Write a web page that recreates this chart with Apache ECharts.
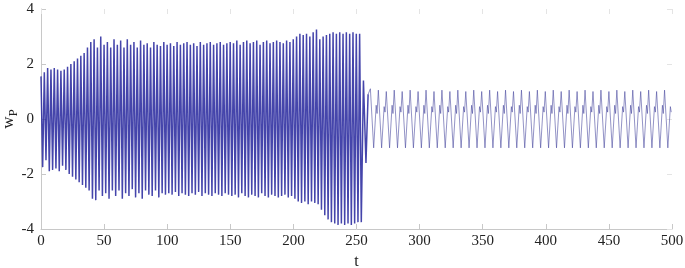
<!DOCTYPE html>
<html>
<head>
<meta charset="utf-8">
<script src="https://cdn.jsdelivr.net/npm/echarts@6/dist/echarts.min.js"></script>
<style>
html,body{margin:0;padding:0;background:#fff;}
#c{width:685px;height:268px;}
</style>
</head>
<body>
<div id="c"></div>
<script>
// ---- data ----
const xTicks = [0, 50, 100, 150, 200, 250, 300, 350, 400, 450, 500];
const yTicks = [-4, -2, 0, 2, 4];

// regime 1: one peak + one trough per cycle, cycle length in t
const period1 = 2.63;
const upper1 = [
  1.55, 1.7, 1.85, 1.8, 1.85, 1.8, 1.75, 1.8,
  1.9, 2.0, 2.1, 2.2,
  2.3, 2.4, 2.6, 2.8,
  2.9, 2.6, 3.0, 2.7,
  2.8, 2.6, 2.9,
  2.7, 2.85, 2.6, 2.9, 2.7, 2.8, 2.6, 2.85, 2.7, 2.75, 2.6, 2.8, 2.7, 2.65, 2.8,
  2.7, 2.75, 2.65, 2.8, 2.7, 2.75, 2.8, 2.7, 2.75, 2.65, 2.8, 2.7, 2.75, 2.8, 2.7, 2.75, 2.8, 2.7, 2.75,
  2.8, 2.75, 2.85, 2.7, 2.8, 2.85, 2.75, 2.8, 2.85, 2.7, 2.8, 2.85, 2.75, 2.8, 2.85, 2.8, 2.75, 2.85, 2.8,
  2.9, 3.0, 3.1, 3.05, 3.1, 3.0, 3.15, 3.25,
  2.9, 3.0, 3.05, 3.1, 3.15, 3.1, 3.15, 3.1, 3.15, 3.1, 3.15, 3.1, 3.1
];
const lower1 = [
  -1.75, -1.5, -1.9, -1.85, -1.8, -1.9, -1.7, -1.85,
  -2.0, -2.1, -2.2, -2.3,
  -2.4, -2.5, -2.6, -2.9,
  -2.95, -2.6, -2.8, -2.7,
  -2.9, -2.6, -2.8,
  -2.6, -2.9, -2.7, -2.8, -2.55, -2.85, -2.7, -2.9, -2.6, -2.75, -2.8, -2.6, -2.85, -2.7, -2.75,
  -2.7, -2.75, -2.65, -2.8, -2.7, -2.75, -2.8, -2.7, -2.75, -2.65, -2.8, -2.7, -2.75, -2.8, -2.7, -2.75, -2.8, -2.7, -2.75,
  -2.8, -2.75, -2.85, -2.7, -2.8, -2.85, -2.75, -2.8, -2.85, -2.7, -2.8, -2.85, -2.75, -2.8, -2.85, -2.8, -2.75, -2.85, -2.8,
  -2.9, -3.0, -3.05, -3.0, -3.1, -3.0, -3.05, -3.1,
  -3.3, -3.5, -3.65, -3.75, -3.8, -3.85, -3.8, -3.85, -3.8, -3.85, -3.8, -3.75, -3.75
];

// transition between regimes
const transT = [255.5, 257.5, 259.2];
const transV = [1.4, -1.6, 0.9];

// regime 2: per cycle peak, trough, shoulder and dip
const start2 = 261;
const period2 = 6.3;
const peak2 = [
  1.1, 1.05, 1.0, 1.05, 1.0, 1.05, 1.0, 1.05, 1.0, 1.05,
  1.0, 1.05, 1.0, 1.05, 1.0, 1.05, 1.0, 1.05, 1.0, 1.05,
  1.0, 1.05, 1.0, 1.05, 1.0, 1.05, 1.0, 1.05, 1.0, 1.05,
  1.0, 1.05, 1.0, 1.05, 1.0, 1.05, 1.0, 1.05
];
const trough2 = [
  -1.05, -1.05, -1.05, -1.05, -1.05, -1.05, -1.05, -1.05, -1.05, -1.05,
  -1.05, -1.05, -1.05, -1.05, -1.05, -1.05, -1.05, -1.05, -1.05, -1.05,
  -1.05, -1.05, -1.05, -1.05, -1.05, -1.05, -1.05, -1.05, -1.05, -1.05,
  -1.05, -1.05, -1.05, -1.05, -1.05, -1.05, -1.05, -1.05
];
const shoulder2 = [
  0.5, 0.45, 0.5, 0.45, 0.5, 0.45, 0.5, 0.45, 0.5, 0.45,
  0.5, 0.45, 0.5, 0.45, 0.5, 0.45, 0.5, 0.45, 0.5, 0.45,
  0.5, 0.45, 0.5, 0.45, 0.5, 0.45, 0.5, 0.45, 0.5, 0.45,
  0.5, 0.45, 0.5, 0.45, 0.5, 0.45, 0.5, 0.45
];
const dip2 = [
  0.2, 0.25, 0.2, 0.25, 0.2, 0.25, 0.2, 0.25, 0.2, 0.25,
  0.2, 0.25, 0.2, 0.25, 0.2, 0.25, 0.2, 0.25, 0.2, 0.25,
  0.2, 0.25, 0.2, 0.25, 0.2, 0.25, 0.2, 0.25, 0.2, 0.25,
  0.2, 0.25, 0.2, 0.25, 0.2, 0.25, 0.2, 0.25
];

// ---- build series points ----
const data1 = [];
for (let i = 0; i < upper1.length; i++) {
  data1.push([i * period1, upper1[i]]);
  data1.push([i * period1 + period1 / 2, lower1[i]]);
}
for (let i = 0; i < transT.length; i++) data1.push([transT[i], transV[i]]);

const data2 = [[transT[transT.length - 1], transV[transV.length - 1]]];
for (let j = 0; j < peak2.length; j++) {
  const t0 = start2 + j * period2;
  data2.push([t0, peak2[j]]);
  data2.push([t0 + 2.6, trough2[j]]);
  data2.push([t0 + 4.6, shoulder2[j]]);
  data2.push([t0 + 5.3, dip2[j]]);
}

const font = 'Liberation Serif';
const axisGray = '#c8c8c8';
const chart = echarts.init(document.getElementById('c'), null, {renderer: 'canvas'});
chart.setOption({
  animation: false,
  backgroundColor: '#fff',
  textStyle: {fontFamily: font},
  grid: {left: 41, right: 13, top: 9, bottom: 39, containLabel: false, outerBoundsMode: 'none'},
  xAxis: [{
    type: 'value', min: xTicks[0], max: xTicks[xTicks.length - 1], interval: 50,
    name: 't', nameLocation: 'middle', nameGap: 25, nameMoveOverlap: false,
    nameTextStyle: {fontFamily: font, fontSize: 16, color: '#222'},
    axisLine: {show: true, onZero: false, lineStyle: {color: axisGray, width: 1}},
    axisTick: {show: true, inside: true, length: 5, lineStyle: {color: axisGray}},
    axisLabel: {fontFamily: font, fontSize: 15, color: '#222', margin: 5},
    splitLine: {show: false}
  }, {
    type: 'value', position: 'top', min: 0, max: 500, interval: 50,
    axisLine: {show: false, onZero: false}, axisLabel: {show: false},
    axisTick: {show: true, inside: true, length: 5, lineStyle: {color: '#e4e4e4'}},
    splitLine: {show: false}
  }],
  yAxis: [{
    type: 'value', min: yTicks[0], max: yTicks[yTicks.length - 1], interval: 2,
    name: 'w{s|P}', nameLocation: 'middle', nameGap: 21, nameRotate: 90, nameMoveOverlap: false,
    nameTextStyle: {fontFamily: font, fontSize: 17, color: '#222',
      rich: {s: {fontFamily: font, fontSize: 13, color: '#222', padding: [10, 0, 0, 0]}}},
    axisLine: {show: true, onZero: false, lineStyle: {color: axisGray, width: 1}},
    axisTick: {show: true, inside: true, length: 5, lineStyle: {color: axisGray}},
    axisLabel: {fontFamily: font, fontSize: 15, color: '#222', margin: 7},
    splitLine: {show: false}
  }, {
    type: 'value', position: 'right', min: -4, max: 4, interval: 2,
    axisLine: {show: false, onZero: false}, axisLabel: {show: false},
    axisTick: {show: true, inside: true, length: 5, lineStyle: {color: '#e4e4e4'}},
    splitLine: {show: false}
  }],
  series: [{
    type: 'line', data: data1, showSymbol: false, sampling: null, clip: true,
    lineStyle: {color: '#24249c', width: 1.5, opacity: 0.85},
    emphasis: {disabled: true}
  }, {
    type: 'line', data: data2, showSymbol: false, clip: true,
    lineStyle: {color: '#4a4aa0', width: 0.8, opacity: 0.75},
    emphasis: {disabled: true}
  }]
});
</script>
</body>
</html>
